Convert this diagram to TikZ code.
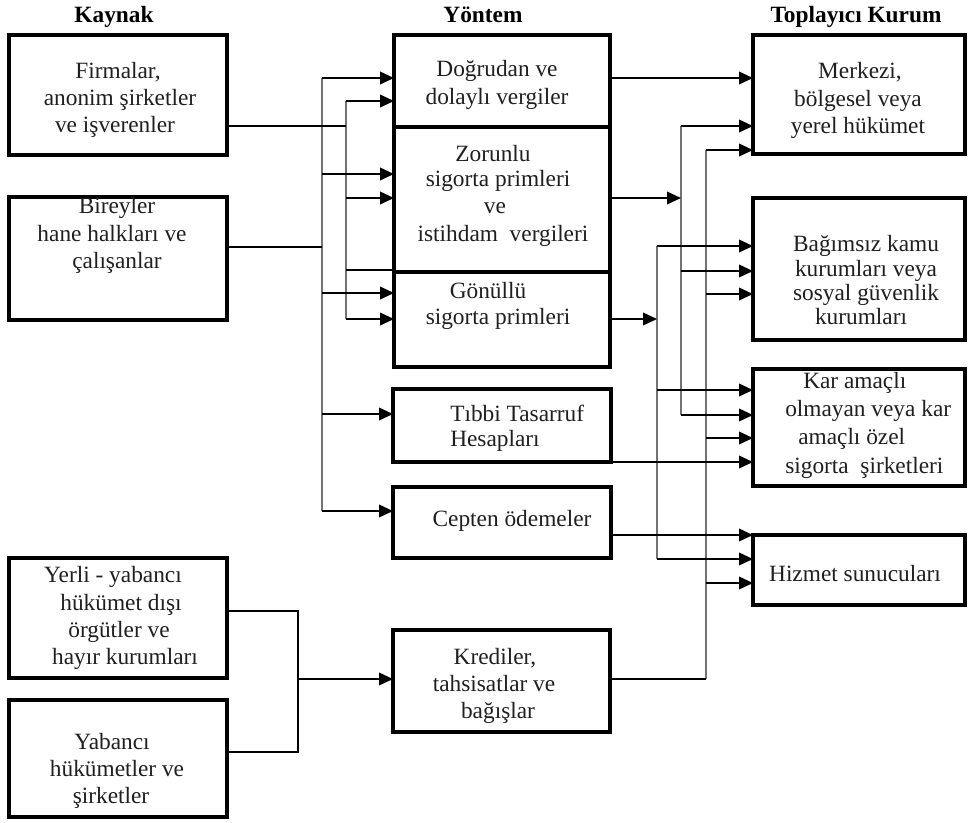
\documentclass[tikz,border=0pt]{standalone}
\usepackage{fontspec}
\setmainfont{Liberation Serif}
\usetikzlibrary{arrows.meta,fit}
\begin{document}
\begin{tikzpicture}[x=0.75pt,y=-0.75pt,
  box/.style={draw=black, line width=2.4pt, inner sep=0pt, outer sep=0pt},
  txt/.style={anchor=base, inner sep=0pt, text=black!88, font=\fontsize{17.5pt}{20pt}\selectfont},
  txw/.style={txt, anchor=base west},
  hd/.style={anchor=base, inner sep=0pt, text=black, font=\fontsize{17.5pt}{20pt}\selectfont\bfseries},
  ln/.style={line width=1.2pt, black},
  bus/.style={line width=1.5pt, black!55},
  arr/.style={ln, -{Triangle[length=10.5pt,width=9.5pt]}},
]
\useasboundingbox (0,0) rectangle (968,822);

% headers
\node[hd] (h1) at (114,22) {Kaynak};
\node[hd] (h2) at (483,22) {Yöntem};
\node[hd] (h3) at (856,22) {Toplayıcı Kurum};

% boxes
\node[box, fit={(9,35) (227,155)}] (firm) {};
\node[box, fit={(9,197) (227,320)}] (birey) {};
\node[box, fit={(9,558) (227,678)}] (yerli) {};
\node[box, fit={(9,700) (227,817)}] (yabanci) {};
\node[box, fit={(394,35) (610,127)}] (dogru) {};
\node[box, fit={(394,127) (610,272)}] (zorunlu) {};
\node[box, fit={(394,272) (610,367)}] (gonullu) {};
\node[box, fit={(393,389) (611,462)}] (tibbi) {};
\node[box, fit={(393,487) (611,558)}] (cepten) {};
\node[box, fit={(393,630) (610,732)}] (kredi) {};
\node[box, fit={(753,35) (965,154)}] (merkez) {};
\node[box, fit={(753,198) (965,340)}] (bagimsiz) {};
\node[box, fit={(753,369) (965,486)}] (kar) {};
\node[box, fit={(753,535) (965,605)}] (hizmet) {};

% texts
\node[txt] (f1) at (118,78) {Firmalar,};
\node[txt] (f2) at (120,105) {anonim şirketler};
\node[txt] (f3) at (115,132) {ve işverenler};
\node[txt] (b1) at (117,213) {Bireyler};
\node[txt] (b2) at (112,241) {hane halkları ve};
\node[txt] (b3) at (117,268) {çalışanlar};
\node[txt] (y1) at (113,582) {Yerli - yabancı};
\node[txt] (y2) at (121,610) {hükümet dışı};
\node[txt] (y3) at (119,637) {örgütler ve};
\node[txt] (y4) at (125,664) {hayır kurumları};
\node[txt] (g1) at (112,749) {Yabancı};
\node[txt] (g2) at (117,776) {hükümetler ve};
\node[txt] (g3) at (111,803) {şirketler};
\node[txt] (d1) at (497,76) {Doğrudan ve};
\node[txt] (d2) at (497,104) {dolaylı vergiler};
\node[txt] (z1) at (493,161) {Zorunlu};
\node[txt] (z2) at (498,186) {sigorta primleri};
\node[txt] (z3) at (495,213) {ve};
\node[txt] (z4) at (503,241) {istihdam\ \ vergileri};
\node[txt] (n1) at (488,298) {Gönüllü};
\node[txt] (n2) at (498,324) {sigorta primleri};
\node[txw] (t1) at (450,421) {Tıbbi Tasarruf};
\node[txw] (t2) at (450,446) {Hesapları};
\node[txt] (c1) at (512,526) {Cepten ödemeler};
\node[txt] (k1) at (495,664) {Krediler,};
\node[txt] (k2) at (494,691) {tahsisatlar ve};
\node[txt] (k3) at (498,718) {bağışlar};
\node[txt] (m1) at (860,78) {Merkezi,};
\node[txt] (m2) at (858,106) {bölgesel veya};
\node[txt] (m3) at (858,133) {yerel hükümet};
\node[txt] (s1) at (866,251) {Bağımsız kamu};
\node[txt] (s2) at (866,276) {kurumları veya};
\node[txt] (s3) at (866,300) {sosyal güvenlik};
\node[txt] (s4) at (861,324) {kurumları};
\node[txw] (r1) at (803,388) {Kar amaçlı};
\node[txw] (r2) at (785,416) {olmayan veya kar};
\node[txw] (r3) at (798,444) {amaçlı özel};
\node[txw] (r4) at (785,473) {sigorta\ \ şirketleri};
\node[txt] (u1) at (855,581) {Hizmet sunucuları};

% bus coordinates
\coordinate (A) at (322,0);
\coordinate (B) at (346,0);
\coordinate (C) at (681,0);
\coordinate (D) at (657,0);
\coordinate (E) at (706,0);
\coordinate (J) at (298,0);

% vertical buses
\draw[bus] (A |- 0,78) -- (A |- 0,511);
\draw[bus] (B |- 0,101) -- (B |- 0,319);
\draw[bus] (C |- 0,126) -- (C |- 0,415);
\draw[bus] (D |- 0,246) -- (D |- 0,559);
\draw[bus] (E |- 0,150) -- (E |- 0,679);

% sources to left buses
\draw[ln] (firm.east |- 0,126) -- (B |- 0,126);
\draw[ln] (birey.east |- 0,247) -- (A |- 0,247);

% left bus arrows
\draw[arr] (A |- 0,78) -- (dogru.west |- 0,78);
\draw[arr] (A |- 0,174) -- (zorunlu.west |- 0,174);
\draw[arr] (A |- 0,293) -- (gonullu.west |- 0,293);
\draw[arr] (A |- 0,414) -- (tibbi.west |- 0,414);
\draw[arr] (A |- 0,511) -- (cepten.west |- 0,511);
\draw[arr] (B |- 0,101) -- (dogru.west |- 0,101);
\draw[arr] (B |- 0,198) -- (zorunlu.west |- 0,198);
\draw[arr] (B |- 0,319) -- (gonullu.west |- 0,319);
\draw[ln] (B |- 0,270) -- (gonullu.west |- 0,270);

% methods to right
\draw[arr] (dogru.east |- 0,78) -- (merkez.west |- 0,78);
\draw[arr] (zorunlu.east |- 0,198) -- (C |- 0,198);
\draw[arr] (gonullu.east |- 0,319) -- (D |- 0,319);
\draw[arr] (tibbi.east |- 0,462) -- (kar.west |- 0,462);
\draw[arr] (cepten.east |- 0,535) -- (hizmet.west |- 0,535);
\draw[ln] (kredi.east |- 0,679) -- (E |- 0,679);

% right bus arrows
\draw[arr] (C |- 0,126) -- (merkez.west |- 0,126);
\draw[arr] (C |- 0,271) -- (bagimsiz.west |- 0,271);
\draw[arr] (C |- 0,415) -- (kar.west |- 0,415);
\draw[arr] (D |- 0,246) -- (bagimsiz.west |- 0,246);
\draw[arr] (D |- 0,390) -- (kar.west |- 0,390);
\draw[arr] (D |- 0,559) -- (hizmet.west |- 0,559);
\draw[arr] (E |- 0,150) -- (merkez.west |- 0,150);
\draw[arr] (E |- 0,294) -- (bagimsiz.west |- 0,294);
\draw[arr] (E |- 0,438) -- (kar.west |- 0,438);
\draw[arr] (E |- 0,583) -- (hizmet.west |- 0,583);

% donors to credits
\draw[ln] (yerli.east |- 0,611) -- (J |- 0,611) -- (J |- 0,752) -- (yabanci.east |- 0,752);
\draw[arr] (J |- 0,679) -- (kredi.west |- 0,679);
\end{tikzpicture}
\end{document}
